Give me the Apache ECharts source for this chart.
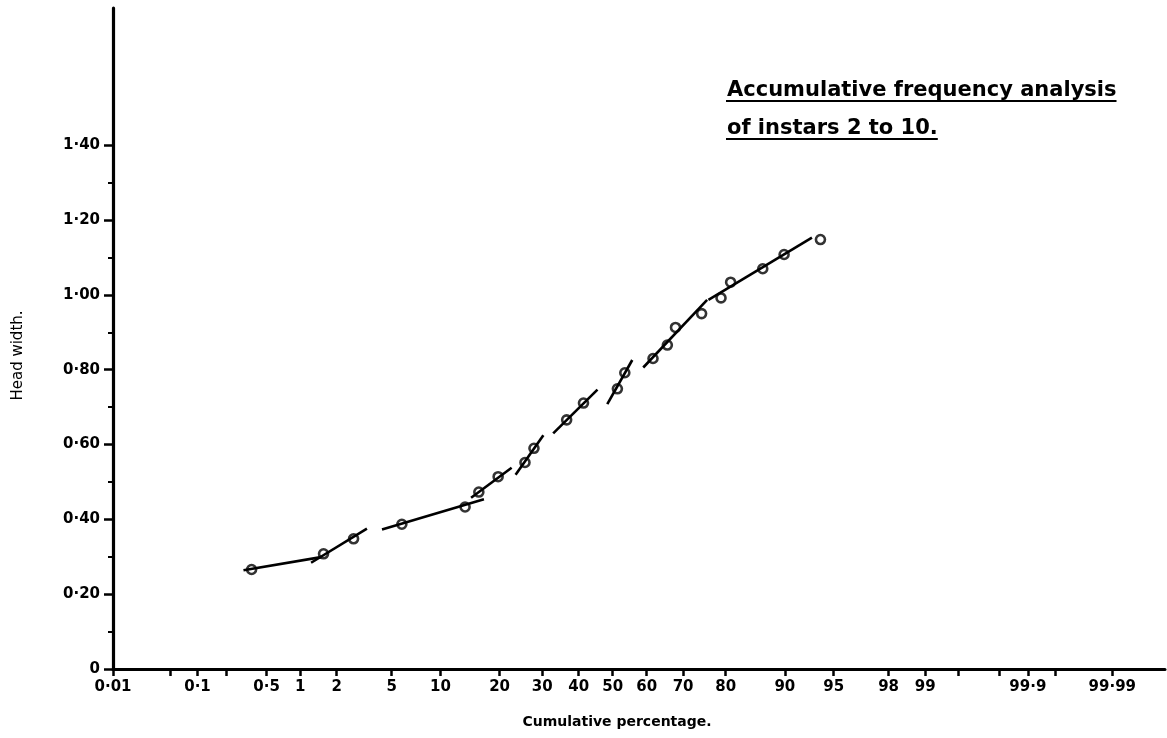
<!DOCTYPE html>
<html><head><meta charset="utf-8">
<script src="https://cdn.jsdelivr.net/npm/echarts@6/dist/echarts.min.js"></script>
<style>html,body{margin:0;padding:0;background:#fff}#c{width:1167px;height:738px}</style>
</head><body><div id="c"></div>
<script>
// ---- data ----
const xTickPercents = [0.01, 0.1, 0.5, 1, 2, 5, 10, 20, 30, 40, 50, 60, 70, 80, 90, 95, 98, 99, 99.9, 99.99];
const xTickLabels = ['0·01', '0·1', '0·5', '1', '2', '5', '10', '20', '30', '40', '50', '60', '70', '80', '90', '95', '98', '99', '99·9', '99·99'];
const xExtraTickPercents = [0.05, 0.2, 99.5, 99.8, 99.95];
const yTickValues = [0, 0.2, 0.4, 0.6, 0.8, 1.0, 1.2, 1.4];
const yTickLabels = ['0', '0·20', '0·40', '0·60', '0·80', '1·00', '1·20', '1·40'];
const yMinorTickValues = [0.1, 0.3, 0.5, 0.7, 0.9, 1.1, 1.3];
const pointPercents = [0.36, 1.57, 2.69, 5.83, 13.6, 15.96, 19.7, 25.7, 27.9, 36.6, 41.4, 51.4, 53.6, 61.8, 65.8, 68.0, 74.6, 79.0, 81.0, 86.8, 89.9, 93.9];
const pointWidths = [0.266, 0.308, 0.348, 0.387, 0.433, 0.473, 0.514, 0.552, 0.590, 0.666, 0.711, 0.749, 0.792, 0.830, 0.866, 0.913, 0.950, 0.992, 1.034, 1.070, 1.108, 1.148];
const segStartPercents = [0.30, 1.24, 4.30, 14.6, 23.5, 32.9, 48.4, 59.0, 76.2];
const segStartWidths = [0.264, 0.284, 0.373, 0.458, 0.519, 0.630, 0.708, 0.806, 0.987];
const segEndPercents = [1.50, 3.37, 16.9, 22.6, 30.3, 45.5, 55.8, 75.9, 93.1];
const segEndWidths = [0.299, 0.375, 0.454, 0.538, 0.625, 0.747, 0.826, 0.987, 1.153];
const titleLines = ['Accumulative frequency analysis', 'of instars 2 to 10.'];
const xName = 'Cumulative percentage.';
const yName = 'Head width.';

// ---- normal probability (probit) transform for the x axis ----
function probit(p) {
  const a = [-3.969683028665376e+01, 2.209460984245205e+02, -2.759285104469687e+02, 1.383577518672690e+02, -3.066479806614716e+01, 2.506628277459239e+00];
  const b = [-5.447609879822406e+01, 1.615858368580409e+02, -1.556989798598866e+02, 6.680131188771972e+01, -1.328068155288572e+01];
  const c = [-7.784894002430293e-03, -3.223964580411365e-01, -2.400758277161838e+00, -2.549732539343734e+00, 4.374664141464968e+00, 2.938163982698783e+00];
  const d = [7.784695709041462e-03, 3.224671290700398e-01, 2.445134137142996e+00, 3.754408661907416e+00];
  const pl = 0.02425, ph = 1 - pl;
  let q, r;
  if (p < pl) { q = Math.sqrt(-2 * Math.log(p)); return (((((c[0]*q+c[1])*q+c[2])*q+c[3])*q+c[4])*q+c[5]) / ((((d[0]*q+d[1])*q+d[2])*q+d[3])*q+1); }
  if (p > ph) { q = Math.sqrt(-2 * Math.log(1 - p)); return -(((((c[0]*q+c[1])*q+c[2])*q+c[3])*q+c[4])*q+c[5]) / ((((d[0]*q+d[1])*q+d[2])*q+d[3])*q+1); }
  q = p - 0.5; r = q * q;
  return (((((a[0]*r+a[1])*r+a[2])*r+a[3])*r+a[4])*r+a[5])*q / (((((b[0]*r+b[1])*r+b[2])*r+b[3])*r+b[4])*r+1);
}
const P = pct => probit(pct / 100);

const xTickVals = xTickPercents.map(P);
const xAllTickVals = xTickPercents.concat(xExtraTickPercents).map(P);
function lookup(vals, labels, v) {
  let best = 0, bd = Infinity;
  vals.forEach((t, i) => { const dd = Math.abs(t - v); if (dd < bd) { bd = dd; best = i; } });
  return labels[best];
}

const xMin = P(0.01);
const xMax = xMin + 7.83;
const yMax = 1.767;

const series = [];
segStartPercents.forEach((s, i) => {
  series.push({
    type: 'line', silent: true, symbol: 'none', z: 2,
    lineStyle: { color: '#000', width: 2.6 },
    data: [[P(s), segStartWidths[i]], [P(segEndPercents[i]), segEndWidths[i]]]
  });
});
series.push({
  type: 'scatter', z: 3, symbol: 'circle', symbolSize: 9,
  itemStyle: { color: 'rgba(255,255,255,0)', borderColor: '#000', borderWidth: 2.6 },
  data: pointPercents.map((p, i) => [P(p), pointWidths[i]])
});

const titleFont = 'bold 21px "DejaVu Sans"';
const ctx = document.createElement('canvas').getContext('2d');
ctx.font = titleFont;
const w1 = ctx.measureText(titleLines[0]).width;
const w2 = ctx.measureText(titleLines[1]).width;
const titleLeft = 727;

const chart = echarts.init(document.getElementById('c'), null, { renderer: 'canvas' });
chart.setOption({
  animation: false,
  backgroundColor: '#fff',
  title: {
    text: titleLines.join('\n'), left: titleLeft - 5, top: 67,
    textStyle: { fontFamily: 'DejaVu Sans', fontWeight: 'bold', fontSize: 21, lineHeight: 38, color: '#000' }
  },
  graphic: [
    { type: 'line', shape: { x1: titleLeft - 1, y1: 101, x2: titleLeft + w1, y2: 101 }, style: { stroke: '#000', lineWidth: 2 } },
    { type: 'line', shape: { x1: titleLeft - 1, y1: 139, x2: titleLeft + w2, y2: 139 }, style: { stroke: '#000', lineWidth: 2 } }
  ],
  grid: { left: 113, right: 2, top: 8, bottom: 69, containLabel: false, outerBoundsMode: 'none' },
  xAxis: {
    type: 'value', min: xMin, max: xMax,
    name: xName, nameLocation: 'middle', nameGap: 46,
    nameTextStyle: { fontFamily: 'DejaVu Sans', fontWeight: 'bold', fontSize: 14, color: '#000', padding: [0, 44, 0, 0] },
    axisLine: { show: true, onZero: false, lineStyle: { color: '#000', width: 3 } },
    axisTick: { show: true, length: 7, customValues: xAllTickVals, lineStyle: { color: '#000', width: 2.5 } },
    axisLabel: {
      show: true, customValues: xTickVals, margin: 11,
      fontFamily: 'DejaVu Sans', fontWeight: 'bold', fontSize: 15, color: '#000',
      formatter: v => lookup(xTickVals, xTickLabels, v)
    },
    splitLine: { show: false }
  },
  yAxis: [{
    type: 'value', min: 0, max: yMax,
    name: yName, nameLocation: 'middle', nameGap: 87, nameRotate: 90,
    nameTextStyle: { fontFamily: 'DejaVu Sans', fontSize: 15, color: '#000', padding: [0, 34, 0, 0] },
    axisLine: { show: true, onZero: false, lineStyle: { color: '#000', width: 3.2 } },
    axisTick: { show: true, length: 9, customValues: yTickValues, lineStyle: { color: '#000', width: 2.5 } },
    axisLabel: {
      show: true, customValues: yTickValues, margin: 13,
      fontFamily: 'DejaVu Sans', fontWeight: 'bold', fontSize: 15, color: '#000',
      formatter: v => lookup(yTickValues, yTickLabels, v)
    },
    splitLine: { show: false }
  }, {
    type: 'value', min: 0, max: yMax, position: 'left', offset: 0,
    axisLine: { show: false, onZero: false },
    axisTick: { show: true, length: 5, customValues: yMinorTickValues, lineStyle: { color: '#000', width: 2 } },
    axisLabel: { show: false },
    splitLine: { show: false }
  }],
  series: series
});
</script>
</body></html>
